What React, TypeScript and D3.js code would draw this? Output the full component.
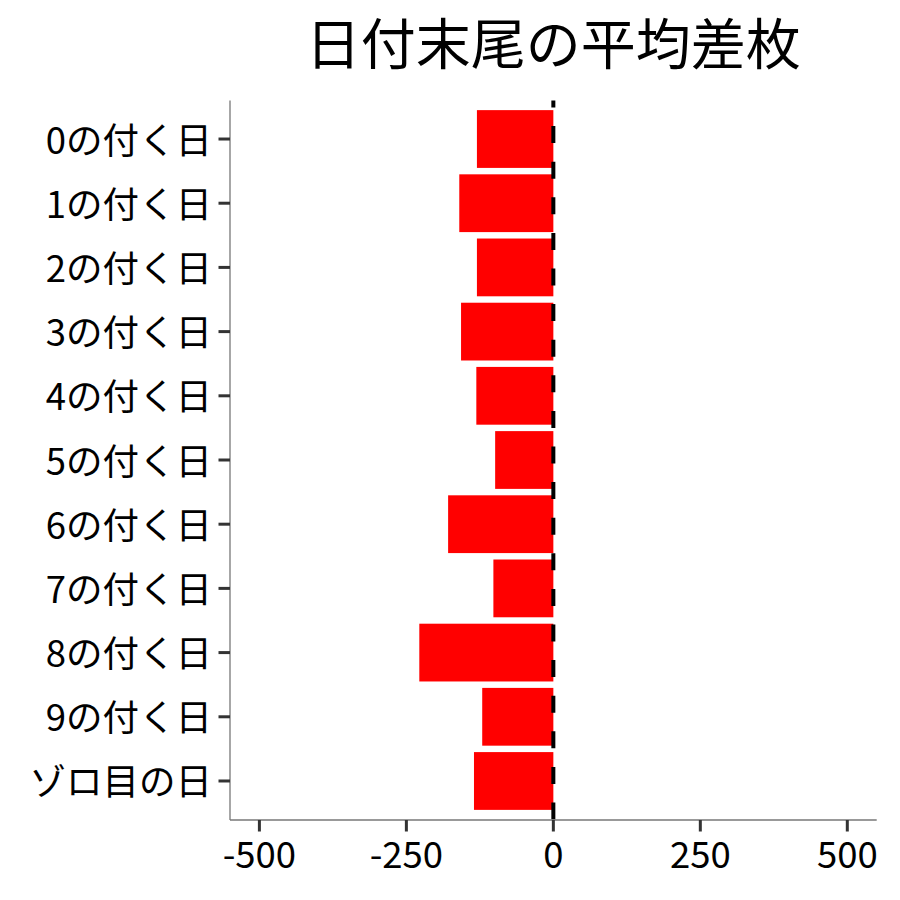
import React from "react";
import * as d3 from "d3";

const categories = [
  "0の付く日",
  "1の付く日",
  "2の付く日",
  "3の付く日",
  "4の付く日",
  "5の付く日",
  "6の付く日",
  "7の付く日",
  "8の付く日",
  "9の付く日",
  "ゾロ目の日",
];
const values = [-130, -160, -130, -157, -131, -99, -179, -102, -228, -121, -135];
const xTicks = [-500, -250, 0, 250, 500];
const title = "日付末尾の平均差枚";

const W = 900;
const H = 900;
const left = 230;
const right = 876.7;
const top = 100.5;
const bottom = 819.5;
const FONT = "'Noto Sans CJK JP', 'Noto Sans', sans-serif";

export default function App() {
  const x = d3.scaleLinear().domain([-550, 550]).range([left, right]);
  const y = d3
    .scaleBand<string>()
    .domain(categories)
    .range([top, bottom])
    .paddingInner(0.1)
    .paddingOuter(0.15)
    .align(0.5);

  return (
    <svg
      width={W}
      height={H}
      style={{ position: "fixed", left: 0, top: 0, background: "#fff" }}
      fontFamily={FONT}
    >
      <rect x={0} y={0} width={W} height={H} fill="#fff" />
      <text
        x={(left + right) / 2}
        y={64}
        textAnchor="middle"
        fontSize={55}
        fill="#000"
      >
        {title}
      </text>
      {categories.map((c, i) => {
        const v = values[i];
        const x0 = x(Math.min(0, v));
        const x1 = x(Math.max(0, v));
        return (
          <rect
            key={c}
            x={x0}
            y={y(c)!}
            width={x1 - x0}
            height={y.bandwidth()}
            fill="#FF0000"
          />
        );
      })}
      <line
        x1={x(0)}
        x2={x(0)}
        y1={bottom}
        y2={top}
        stroke="#000"
        strokeWidth={4}
        strokeDasharray="17 18.6"
      />
      {/* axes lines */}
      <line x1={left} x2={left} y1={top} y2={bottom + 0.5} stroke="#777" strokeWidth={1.3} />
      <line x1={left} x2={right} y1={bottom + 0.5} y2={bottom + 0.5} stroke="#777" strokeWidth={1.3} />
      {/* y ticks */}
      {categories.map((c) => {
        const cy = y(c)! + y.bandwidth() / 2;
        return (
          <g key={"yt" + c}>
            <line x1={left - 11.5} x2={left} y1={cy} y2={cy} stroke="#333" strokeWidth={3} />
            <text x={212} y={cy + 14.5} textAnchor="end" fontSize={36.5} fill="#000">
              {c}
            </text>
          </g>
        );
      })}
      {/* x ticks */}
      {xTicks.map((t) => (
        <g key={"xt" + t}>
          <line x1={x(t)} x2={x(t)} y1={bottom + 0.5} y2={bottom + 12} stroke="#333" strokeWidth={3} />
          <text x={x(t)} y={868} textAnchor="middle" fontSize={36.5} fill="#000">
            {t}
          </text>
        </g>
      ))}
    </svg>
  );
}
